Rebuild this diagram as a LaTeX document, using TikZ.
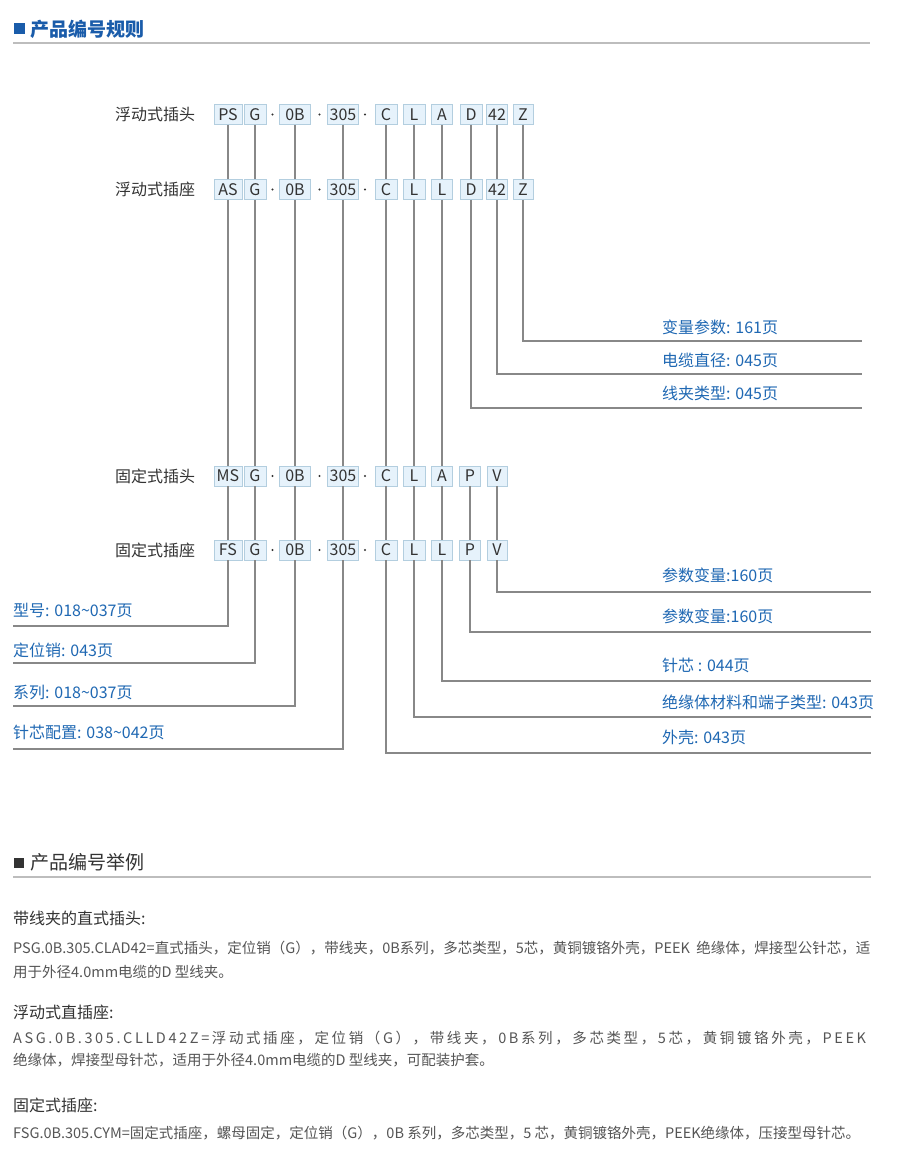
\documentclass[tikz,border=0pt]{standalone}
\usepackage{fontspec}
\setmainfont{Noto Sans CJK SC}
\usetikzlibrary{positioning}
\definecolor{HeadBlue}{HTML}{1A5CAA}
\definecolor{PageBlue}{HTML}{1F68B3}
\definecolor{BoxFill}{HTML}{E6F2FB}
\definecolor{BoxEdge}{HTML}{B3CEDF}
\definecolor{LeadGray}{HTML}{888888}
\definecolor{RuleGray}{HTML}{BDBDBD}
\definecolor{InkDark}{HTML}{333333}
\definecolor{InkGray}{HTML}{555555}

\begin{document}
\begin{tikzpicture}[
    x=1pt,y=-1pt,
    every node/.style={font=\fontsize{16}{18}\selectfont,inner sep=0pt},
    code/.style={draw=BoxEdge,fill=BoxFill,line width=0.8pt,minimum height=20pt,text=InkDark},
    sep/.style={circle,fill=InkDark,minimum size=2.2pt},
    lead/.style={LeadGray,line width=1.4pt},
    rule/.style={RuleGray,line width=1.5pt},
    rowlbl/.style={anchor=west,text=InkDark},
    pagelbl/.style={anchor=west,text=PageBlue},
    sub/.style={anchor=west,text=InkDark},
    body/.style={anchor=west,text=InkGray,font=\fontsize{14.5}{16}\selectfont}
  ]
    \fill[white] (0,0) rectangle (900,1170);
    \useasboundingbox (0,0) rectangle (900,1170);

    % heading 1
    \node[fill=HeadBlue,minimum size=11pt] (sqa) at (19.5,28.5) {};
    \node[anchor=west,text=HeadBlue,font=\fontsize{19}{21}\selectfont\bfseries] (heada) at (30,29) {产品编号规则};
    \draw[rule] (13,43) -- (870,43);

    % row labels
    \node[rowlbl] (lfp) at (115,114.5) {浮动式插头};
    \node[rowlbl] (lfs) at (115,189.5) {浮动式插座};
    \node[rowlbl] (lmp) at (115,476) {固定式插头};
    \node[rowlbl] (lms) at (115,550) {固定式插座};

    % code boxes
    \foreach \c/\x/\w/\t in {1/228/28/PS,2/255/22/G,3/295/31/0B,4/343/31/305,5/386/22/C,6/414/22/L,7/442/21/A,8/471/22/D,9/497/21/42,10/523/20/Z}
      \node[code,minimum width=\w pt] (fp\c) at (\x,114.5) {\t};
    \foreach \c/\x/\w/\t in {1/228/28/AS,2/255/22/G,3/295/31/0B,4/343/31/305,5/386/22/C,6/414/22/L,7/442/21/L,8/471/22/D,9/497/21/42,10/523/20/Z}
      \node[code,minimum width=\w pt] (fs\c) at (\x,189.5) {\t};
    \foreach \c/\x/\w/\t in {1/228/28/MS,2/255/22/G,3/295/31/0B,4/343/31/305,5/386/22/C,6/414/22/L,7/442/21/A,8/470/21/P,9/497/20/V}
      \node[code,minimum width=\w pt] (mp\c) at (\x,476) {\t};
    \foreach \c/\x/\w/\t in {1/228/28/FS,2/255/22/G,3/295/31/0B,4/343/31/305,5/386/22/C,6/414/22/L,7/442/21/L,8/470/21/P,9/497/20/V}
      \node[code,minimum width=\w pt] (ms\c) at (\x,550) {\t};
    \foreach \r/\y in {fp/114.5,fs/189.5,mp/476,ms/550} {
      \node[sep] (\r dota) at (272.5,\y) {};
      \node[sep] (\r dotb) at (319.5,\y) {};
      \node[sep] (\r dotc) at (365,\y) {};
    }

    % leads between rows
    \foreach \c in {1,...,10} \draw[lead] (fp\c) -- (fs\c);
    \foreach \c in {1,...,7} \draw[lead] (fs\c) -- (mp\c);
    \foreach \c in {1,...,9} \draw[lead] (mp\c) -- (ms\c);

    % page references, floating
    \coordinate (zend) at (862,341);
    \coordinate (cabend) at (862,374);
    \coordinate (clpend) at (862,408);
    \node[pagelbl] (zlbl) at (662,327) {变量参数: 161页};
    \node[pagelbl] (cablbl) at (662,360) {电缆直径: 045页};
    \node[pagelbl] (clplbl) at (662,393) {线夹类型: 045页};
    \draw[lead] (fs10) |- (zend);
    \draw[lead] (fs9) |- (cabend);
    \draw[lead] (fs8) |- (clpend);

    % page references, fixed
    \coordinate (vend) at (871,592);
    \coordinate (pend) at (871,632);
    \coordinate (pinend) at (871,681);
    \coordinate (insend) at (871,717);
    \coordinate (shlend) at (871,753);
    \node[pagelbl] (vlbl) at (662,575) {参数变量:160页};
    \node[pagelbl] (plbl) at (662,616) {参数变量:160页};
    \node[pagelbl] (pinlbl) at (662,665) {针芯 : 044页};
    \node[pagelbl] (inslbl) at (662,702) {绝缘体材料和端子类型: 043页};
    \node[pagelbl] (shllbl) at (662,737) {外壳: 043页};
    \draw[lead] (ms9) |- (vend);
    \draw[lead] (ms8) |- (pend);
    \draw[lead] (ms7) |- (pinend);
    \draw[lead] (ms6) |- (insend);
    \draw[lead] (ms5) |- (shlend);

    \coordinate (typend) at (13,626);
    \coordinate (keyend) at (13,663);
    \coordinate (serend) at (13,706);
    \coordinate (layend) at (13,749);
    \node[pagelbl] (typlbl) at (13,610) {型号: 018\textasciitilde037页};
    \node[pagelbl] (keylbl) at (13,650) {定位销: 043页};
    \node[pagelbl] (serlbl) at (13,692) {系列: 018\textasciitilde037页};
    \node[pagelbl] (laylbl) at (13,732) {针芯配置: 038\textasciitilde042页};
    \draw[lead] (ms1) |- (typend);
    \draw[lead] (ms2) |- (keyend);
    \draw[lead] (ms3) |- (serend);
    \draw[lead] (ms4) |- (layend);

    % heading 2
    \node[fill=InkDark,minimum size=10pt] (sqb) at (18.5,863) {};
    \node[anchor=west,text=InkDark,font=\fontsize{19}{21}\selectfont] (headb) at (30,862) {产品编号举例};
    \draw[rule] (13,877) -- (871,877);

    % examples
    \node[sub] (exa) at (13,918) {带线夹的直式插头:};
    \node[body] (exaa) at (13,948) {PSG.0B.305.CLAD42=直式插头，定位销（G），带线夹，0B系列，多芯类型，5芯，黄铜镀铬外壳，PEEK\ \ 绝缘体，焊接型公针芯，适};
    \node[body] (exab) at (13,972) {用于外径4.0mm电缆的D 型线夹。};
    \node[sub] (exb) at (13,1012) {浮动式直插座:};
    \node[body] (exba) at (13,1038) {\addfontfeature{LetterSpace=18}ASG.0B.305.CLLD42Z=浮动式插座，定位销（G），带线夹，0B系列，多芯类型，5芯，黄铜镀铬外壳，PEEK};
    \node[body] (exbb) at (13,1060) {绝缘体，焊接型母针芯，适用于外径4.0mm电缆的D 型线夹，可配装护套。};
    \node[sub] (exc) at (13,1105) {固定式插座:};
    \node[body] (exca) at (13,1133) {FSG.0B.305.CYM=固定式插座，螺母固定，定位销（G），0B 系列，多芯类型，5 芯，黄铜镀铬外壳，PEEK绝缘体，压接型母针芯。};
  \end{tikzpicture}
\end{document}
